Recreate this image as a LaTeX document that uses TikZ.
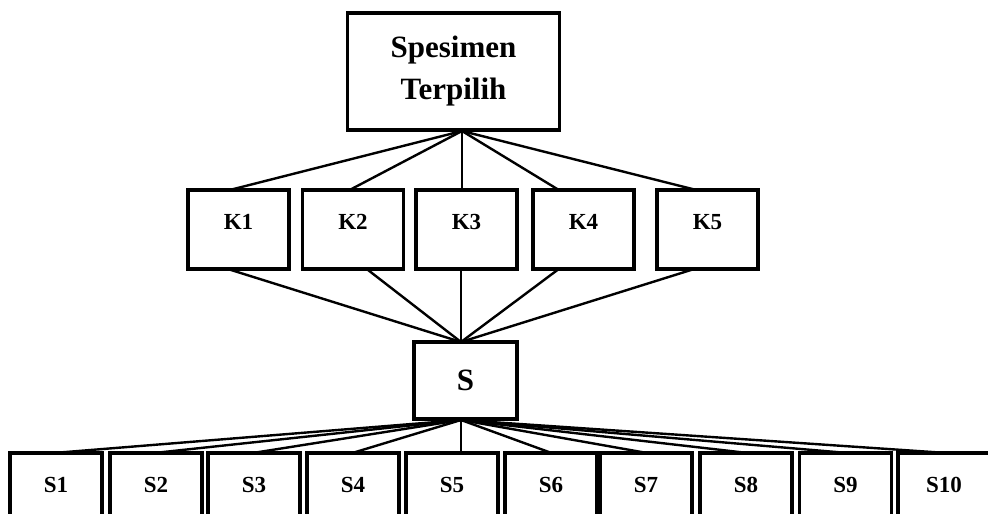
\documentclass[tikz,border=0pt]{standalone}
\usepackage{fontspec}
\setmainfont{Liberation Serif}
\usetikzlibrary{calc}
\begin{document}
\begin{tikzpicture}[x=1pt,y=-1pt,
  box/.style={draw=black, line width=3.2pt, fill=white, rectangle, inner sep=0pt},
  link/.style={draw=black, line width=2.4pt},
  lbl/.style={font=\bfseries\fontsize{23}{26}\selectfont}]
\clip (0,0) rectangle (988,514);
\fill[white] (0,0) rectangle (988,514);
% coordinates where connectors converge
\coordinate (tc) at (462,131);
\coordinate (sin) at (461,342);
\coordinate (sout) at (461,420);
% box positions (drawn later on top of links)
\path (453.5,71.5) coordinate (top);
\foreach \n/\x in {1/238.5,2/353,3/466.5,4/583.5,5/707.5}{
  \node[minimum width=101pt, minimum height=79pt, inner sep=0pt] (K\n) at (\x,229.5) {};
}
\foreach \n/\x in {1/56,2/156,3/254,4/353,5/452,6/551,7/646,8/746,9/845.5,10/944}{
  \node[minimum width=92pt, minimum height=90pt, inner sep=0pt] (S\n) at (\x,498) {};
}
% connectors
\draw[link] (tc) -- ($(K1.north)+(-8,0)$);
\draw[link] (tc) -- ($(K2.north)+(-3,0)$);
\draw[link] (tc) -- (K3.north -| tc);
\draw[link] (tc) -- ($(K4.north)+(-25,0)$);
\draw[link] (tc) -- ($(K5.north)+(-12,0)$);
\draw[link] ($(K1.south)+(-10,0)$) -- (sin);
\draw[link] ($(K2.south)+(14,0)$) -- (sin);
\draw[link] (K3.south -| sin) -- (sin);
\draw[link] ($(K4.south)+(-25,0)$) -- (sin);
\draw[link] ($(K5.south)+(-14,0)$) -- (sin);
\foreach \n in {1,2,3,4,6,7,8,9,10}{
  \draw[link] (sout) -- (S\n.north);
}
\draw[link] (sout) -- (S5.north -| sout);
% boxes
\node[box, minimum width=212pt, minimum height=117pt, align=center,
  font=\bfseries\fontsize{31}{42}\selectfont] (T) at (top) {\raisebox{5pt}{}Spesimen\\Terpilih};
\foreach \n in {1,...,5}{
  \node[box, minimum width=101pt, minimum height=79pt] at (K\n) {};
  \node[lbl] at ($(K\n)+(0,-7.5)$) {K\n};
}
\node[box, minimum width=103pt, minimum height=77pt, font=\bfseries\fontsize{31}{34}\selectfont] (S) at (465.5,380.5) {S};
\foreach \n in {1,...,10}{
  \node[box, minimum width=92pt, minimum height=90pt] at (S\n) {};
  \node[lbl] at ($(S\n)+(0,-13)$) {S\n};
}
\end{tikzpicture}
\end{document}
